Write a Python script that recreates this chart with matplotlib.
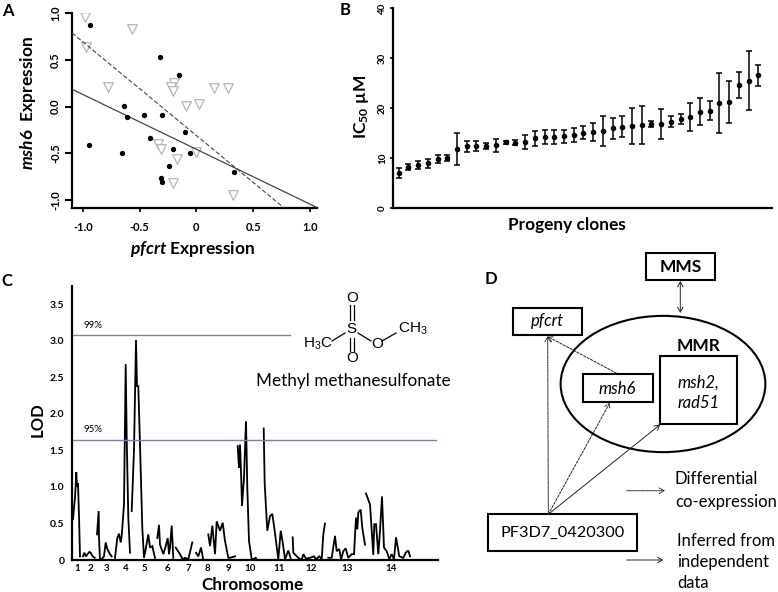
import matplotlib
matplotlib.use("Agg")
import matplotlib.pyplot as plt
from matplotlib.patches import Ellipse, Rectangle

W, H = 778, 592

plt.rcParams['font.family'] = ['Lato', 'DejaVu Sans']
plt.rcParams['mathtext.fontset'] = 'custom'
plt.rcParams['mathtext.it'] = 'Lato:italic:bold'
plt.rcParams['mathtext.rm'] = 'Lato:bold'
plt.rcParams['mathtext.default'] = 'regular'

# panel A: expression scatter
black_x = [-0.94, -0.32, -0.15, -0.635, -0.46, -0.30, -0.615, -0.10, -0.41, -0.95, -0.21, -0.66, -0.06, -0.24, 0.33, -0.31, -0.30]
black_y = [0.87, 0.53, 0.34, 0.01, -0.09, -0.09, -0.115, -0.27, -0.34, -0.41, -0.455, -0.50, -0.50, -0.635, -0.70, -0.77, -0.805]
tri_x = [-0.98, -0.565, -0.97, -0.78, -0.195, -0.225, -0.21, 0.15, 0.275, -0.09, 0.018, -0.34, -0.31, -0.17, 0.0, -0.21, 0.32]
tri_y = [0.96, 0.83, 0.64, 0.215, 0.255, 0.21, 0.165, 0.197, 0.204, 0.007, 0.03, -0.405, -0.455, -0.56, -0.49, -0.82, -0.946]
solid_fit_x = [-1.097, 1.062]
solid_fit_y = [0.186, -1.082]
dashed_fit_x = [-1.097, 0.768]
dashed_fit_y = [0.79, -1.082]

# panel B: IC50 per clone
ic50 = [7.0, 8.2, 8.6, 9.0, 9.9, 10.1, 11.9, 12.4, 12.4, 12.4, 12.6, 13.2, 13.1, 13.2, 14.0, 14.2, 14.3, 14.4, 14.6,
        15.1, 15.3, 15.5, 16.0, 16.3, 16.5, 16.7, 16.9, 16.9, 17.3, 17.8, 18.3, 19.3, 19.5, 21.0, 21.3, 24.7, 25.5, 26.6]
ic50_lo = [6.0, 7.6, 7.8, 8.0, 9.1, 9.4, 8.7, 11.2, 11.5, 11.8, 11.2, 12.8, 12.6, 11.9, 12.5, 12.8, 12.8, 13.1, 13.2,
           13.8, 13.5, 12.5, 13.8, 14.2, 12.8, 12.9, 16.2, 13.9, 16.2, 16.8, 15.5, 16.6, 17.6, 15.0, 17.0, 22.0, 19.6, 24.4]
ic50_hi = [8.0, 8.9, 9.4, 9.9, 10.7, 10.7, 15.0, 13.5, 13.4, 13.1, 13.9, 13.5, 13.6, 14.6, 15.5, 15.6, 15.7, 15.7, 16.0,
           16.4, 17.1, 18.4, 18.1, 18.4, 20.1, 20.4, 17.4, 19.8, 18.4, 18.8, 21.1, 22.0, 21.4, 27.1, 25.5, 27.3, 31.4, 28.6]

# panel C: LOD trace, one (positions, lod) pair per unbroken piece
lod_pieces = [
    ([72, 73, 74, 75, 76.3, 77, 78, 79, 80], [0.75, 0.55, 0.72, 0.85, 1.2, 1.0, 1.05, 0.6, 0.05]),
    ([83, 84.3, 86, 87.5, 89.3, 90.7, 92.7, 94.7], [0.05, 0.1, 0.05, 0.08, 0.11, 0.1, 0.05, 0.03]),
    ([97, 98.7, 99, 100, 101.7, 104, 105.7, 107.3, 110, 111.7], [0.35, 0.67, 0.3, 0.0, 0.01, 0.05, 0.24, 0.15, 0.08, 0.05]),
    ([115, 117.3, 119, 120.7, 121.7, 124, 125.7, 126.7, 128.3, 130], [0.03, 0.3, 0.36, 0.24, 0.33, 0.76, 2.68, 1.68, 0.58, 0.1]),
    ([131.7, 134, 136, 137, 138.3, 140, 142.3, 144, 146, 148.3, 150, 152.3, 155],
     [0.67, 1.5, 3.01, 2.38, 2.38, 1.58, 0.44, 0.03, 0.17, 0.35, 0.17, 0.19, 0.03]),
    ([157.3, 159, 160, 163.3, 165.7, 167.7, 169, 170, 171.7, 173.3], [0.3, 0.48, 0.21, 0.08, 0.19, 0.3, 0.08, 0.17, 0.47, 0.03]),
    ([175.7, 180, 182.7, 185, 188.3, 192.3], [0.17, 0.08, 0.01, 0.03, 0.01, 0.24]),
    ([196, 198.3, 201, 203.3], [0.1, 0.05, 0.17, 0.0]),
    ([208.3, 210, 212.3, 215, 216.7, 220, 222.7, 225, 228.3, 230, 235], [0.35, 0.19, 0.47, 0.08, 0.53, 0.4, 0.51, 0.26, 0.03, 0.03, 0.05]),
    ([237.7, 239, 240, 241, 242, 244, 246, 247.3, 249, 251.7, 253, 255.7, 257],
     [1.56, 1.26, 1.58, 1.22, 0.74, 1.13, 1.9, 0.99, 0.26, 0.01, 0.01, 0.03, 0.0]),
    ([263.7, 264.7, 267.3, 270, 272.3, 274.3, 278.3, 280.7, 282.7, 285, 288.3, 291],
     [1.8, 1.04, 0.4, 0.6, 0.63, 0.44, 0.01, 0.4, 0.24, 0.01, 0.13, 0.01]),
    ([292.7, 293.3, 298.3, 301.7, 303.3, 306, 310, 314, 316, 319.3, 321.7, 323.3, 325],
     [0.31, 0.1, 0.03, 0.0, 0.08, 0.02, 0.03, 0.05, 0.01, 0.05, 0.01, 0.35, 0.5]),
    ([328.3, 331.7, 335, 336.7, 339.3, 341, 343.3, 345.7, 348.3, 351.7, 354, 356, 357.3, 358.3, 360.7, 362.3, 365],
     [0.03, 0.03, 0.33, 0.12, 0.15, 0.01, 0.12, 0.16, 0.03, 0.08, 0.08, 0.58, 0.42, 0.65, 0.69, 0.44, 0.21]),
    ([366, 370, 373.3, 374.3, 376, 378.3, 380, 382, 384, 386.7, 389.3, 391.7, 394, 396, 399.3, 403.3, 405.7, 408.3, 410],
     [0.91, 0.76, 0.07, 0.49, 0.49, 0.08, 0.4, 0.87, 0.17, 0.12, 0.01, 0.08, 0.01, 0.31, 0.05, 0.03, 0.1, 0.13, 0.05]),
]
chrom_pos = [77, 90, 107, 126, 144, 167, 188, 207, 228, 250, 279, 311, 347, 391]
chrom_labels = [str(i) for i in range(1, 15)]
lod_99, lod_95 = 3.08, 1.64
lod_99_end, lod_95_end = 290, 436


def panel(left, top, right, bottom):
    ax = fig.add_axes([left / W, 1 - bottom / H, (right - left) / W, (bottom - top) / H])
    ax.spines[['top', 'right']].set_visible(False)
    ax.spines[['left', 'bottom']].set_linewidth(1.6)
    ax.patch.set_alpha(0)
    return ax


fig = plt.figure(figsize=(W / 100, H / 100), dpi=100)

# A
ax_a = panel(72, 13.3, 317, 208)
ax_a.scatter(tri_x, tri_y, marker='v', s=48, facecolors='white', edgecolors='#b5b5b5', linewidths=0.9, zorder=2)
ax_a.plot(solid_fit_x, solid_fit_y, color='#444444', lw=0.9, zorder=3)
ax_a.plot(dashed_fit_x, dashed_fit_y, color='#444444', lw=0.8, ls=(0, (4, 2)), zorder=3)
ax_a.scatter(black_x, black_y, s=8, color='black', zorder=4)
ax_a.set_xlim(-1.097, 1.062)
ax_a.set_ylim(-1.087, 1.0)
ax_a.set_xticks([-1.0, -0.5, 0, 0.5, 1.0], ['-1.0', '-0.5', '0', '0.5', '1.0'], fontsize=8, fontweight='bold')
ax_a.set_yticks([-1.0, -0.5, 0, 0.5, 1.0], ['-1.0', '-0.5', '0.0', '0.5', '1.0'], fontsize=8, fontweight='bold',
                rotation=90, va='center')
ax_a.tick_params(axis='y', length=5, width=1.5, pad=3)
ax_a.tick_params(axis='x', length=3, width=1.2, pad=7)

# B
ax_b = panel(393.3, 8, 771.7, 208.3)
clones = list(range(1, len(ic50) + 1))
low_err = [m - l for m, l in zip(ic50, ic50_lo)]
high_err = [h - m for m, h in zip(ic50, ic50_hi)]
ax_b.errorbar(clones, ic50, yerr=[low_err, high_err], fmt='o', ms=3.0, color='black', ecolor='black',
              elinewidth=1.1, capsize=2, capthick=1.1)
step = 9.72
ax_b.set_xlim(1 - (398.7 - 393.3) / step, 1 + (771.7 - 398.7) / step)
ax_b.set_ylim(0, 40)
ax_b.set_xticks([])
ax_b.set_yticks([0, 10, 20, 30, 40], ['0', '10', '20', '30', '40'], fontsize=7, fontweight='bold',
                rotation=90, va='center')
ax_b.tick_params(axis='y', length=2.5, width=1.2, pad=2)

# C
ax_c = panel(72, 286, 438, 560)
for pos, lod in lod_pieces:
    ax_c.plot(pos, lod, color='black', lw=1.3, solid_joinstyle='miter')
ax_c.plot([72, lod_99_end], [lod_99, lod_99], color='#7f7ab8', lw=1.0)
ax_c.plot([72, lod_95_end], [lod_95, lod_95], color='#7f7ab8', lw=1.0)
ax_c.set_xlim(72, 438)
ax_c.set_ylim(0, 3.75)
ax_c.set_xticks(chrom_pos, chrom_labels, fontsize=7, fontweight='bold')
ax_c.set_yticks([0, 0.5, 1.0, 1.5, 2.0, 2.5, 3.0, 3.5], ['0', '0.5', '1.0', '1.5', '2.0', '2.5', '3.0', '3.5'],
                fontsize=7.5, fontweight='bold')
ax_c.tick_params(length=0)
ax_c.tick_params(axis='y', pad=5.5)
ax_c.tick_params(axis='x', pad=3)

# overlay in picture pixels: labels, molecule and diagram D
ov = fig.add_axes([0, 0, 1, 1])
ov.set_xlim(0, W)
ov.set_ylim(H, 0)
ov.axis('off')
ov.patch.set_alpha(0)


def label(x, y, s, size=11, weight='normal', style='normal', ha='center', rot=0, fam=None):
    ov.text(x, y, s, fontsize=size, fontweight=weight, fontstyle=style, ha=ha, va='center', rotation=rot,
            family=fam if fam else plt.rcParams['font.family'])


for x, y, s in [(8, 11, 'A'), (345, 10, 'B'), (7, 281, 'C'), (491, 279, 'D')]:
    label(x, y, s, size=12, weight='bold')

label(192, 249, r'$\mathit{pfcrt}$ Expression', size=12.5, weight='bold')
label(28, 103, r'$\mathit{msh6}$  Expression', size=12.5, weight='bold', rot=90)
label(362, 107, r'IC$_{50}$ µM', size=12.5, weight='bold', rot=90)
label(567, 225, 'Progeny clones', size=12.4, weight='bold')
label(253, 585, 'Chromosome', size=12.3, weight='bold')
label(38, 420, 'LOD', size=12, weight='bold', rot=90)
label(93, 326, '99%', size=7)
label(93, 430, '95%', size=7)

# molecule
mol = ['Liberation Sans']
label(351.7, 298, 'O', size=11, fam=mol)
label(351.7, 329, 'S', size=11, fam=mol)
label(351.7, 358, 'O', size=11, fam=mol)
label(376.7, 344, 'O', size=11, fam=mol)
label(398, 329, r'CH$_3$', size=11, ha='left', fam=mol)
label(303, 344, r'H$_3$C', size=11, ha='left', fam=mol)
for dx in (-2, 2):
    ov.plot([351.7 + dx, 351.7 + dx], [305, 320], color='black', lw=0.9)
    ov.plot([351.7 + dx, 351.7 + dx], [338, 351], color='black', lw=0.9)
ov.plot([332, 345], [341, 333], color='black', lw=0.9)
ov.plot([358, 371], [333, 341], color='black', lw=0.9)
ov.plot([382, 396], [341, 333], color='black', lw=0.9)
label(353, 381, 'Methyl methanesulfonate', size=12.3)


def box(x0, y0, x1, y1):
    ov.add_patch(Rectangle((x0, y0), x1 - x0, y1 - y0, fill=False, ec='black', lw=1.5))


def arrow(x0, y0, x1, y1, ls='-', style='->', lw=0.7):
    ov.annotate('', xy=(x1, y1), xytext=(x0, y0),
                arrowprops=dict(arrowstyle=style + ',head_length=0.35,head_width=0.2', lw=lw, ls=ls, color='#222222',
                                shrinkA=0, shrinkB=0))


box(646, 252.7, 715.3, 280)
box(513.3, 307.7, 582.3, 335)
box(660.3, 356, 737.3, 424.3)
box(583.3, 374.3, 652.7, 402)
box(488.3, 514.3, 637, 551)
ov.add_patch(Ellipse((663, 384), 204.7, 136.3, fill=False, ec='black', lw=1.5))

label(681, 267, 'MMS', size=12.5, weight='bold')
label(547.5, 321, 'pfcrt', size=12, style='italic')
label(698.3, 346, 'MMR', size=12.5, weight='bold')
label(698.3, 382.5, 'msh2,', size=12, style='italic')
label(698.3, 403, 'rad51', size=12, style='italic')
label(617.7, 389, 'msh6', size=12, style='italic')
label(562.7, 533, 'PF3D7_0420300', size=11.7)

arrow(680.3, 281, 680.3, 313, style='<->')
arrow(548.3, 514.3, 547.7, 336, ls=(0, (1.5, 1)))
arrow(548.3, 514.3, 610, 402.5, ls=(0, (2.5, 1.5)))
arrow(548.3, 514.3, 660.3, 424.5)
arrow(616.7, 373.3, 547.7, 336.5, ls=(0, (2.5, 1.5)))
arrow(626.7, 490.7, 665, 490.7, ls=(0, (1.5, 1)))
arrow(626.7, 560, 663.3, 560)

label(675, 479, 'Differential', size=12, ha='left')
label(675, 501.7, 'co-expression', size=12, ha='left')
label(677, 541, 'Inferred from', size=12, ha='left')
label(677, 562, 'independent', size=12, ha='left')
label(677, 583, 'data', size=12, ha='left')

fig.savefig('out.png', dpi=100)
